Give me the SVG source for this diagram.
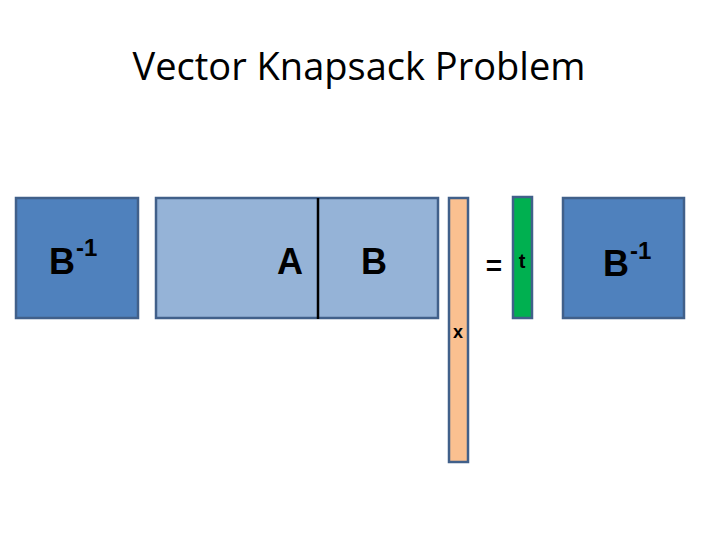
<svg xmlns="http://www.w3.org/2000/svg" width="720" height="540" viewBox="0 0 720 540">
<style>
.box{stroke:#41608a;stroke-width:2.5}
.lbl{font-family:"Liberation Sans","Open Sans",sans-serif;font-weight:bold;fill:#000}
</style>
<rect width="720" height="540" fill="#fff"/>
<text x="359" y="80" text-anchor="middle" font-family="Open Sans, Liberation Sans, sans-serif" font-size="38" textLength="453" lengthAdjust="spacingAndGlyphs">Vector Knapsack Problem</text>
<g id="binv-left">
<rect class="box" x="16" y="198" width="122" height="120" fill="#4f81bd"/>
<text class="lbl" x="49" y="274" font-size="36">B</text>
<text class="lbl" x="76" y="256" font-size="24">-1</text>
</g>
<g id="matrix-ab">
<rect class="box" x="156" y="198" width="282" height="120" fill="#95b3d7"/>
<line x1="318" y1="198" x2="318" y2="319" stroke="#000" stroke-width="2.5"/>
<text class="lbl" x="277" y="274" font-size="36">A</text>
<text class="lbl" x="361" y="274" font-size="36">B</text>
</g>
<g id="vector-x">
<rect class="box" x="449" y="198" width="19" height="264" fill="#fac090"/>
<text class="lbl" x="458" y="338" font-size="18" text-anchor="middle">x</text>
</g>
<g id="equals">
<text class="lbl" x="494" y="275" font-size="28" text-anchor="middle">=</text>
</g>
<g id="vector-t">
<rect class="box" x="513" y="197" width="19" height="121" fill="#00b050"/>
<text class="lbl" x="522" y="268" font-size="20" text-anchor="middle">t</text>
</g>
<g id="binv-right">
<rect class="box" x="563" y="198" width="121" height="120" fill="#4f81bd"/>
<text class="lbl" x="603" y="276" font-size="36">B</text>
<text class="lbl" x="630" y="259" font-size="24">-1</text>
</g>
<g id="connectors"></g>
</svg>
